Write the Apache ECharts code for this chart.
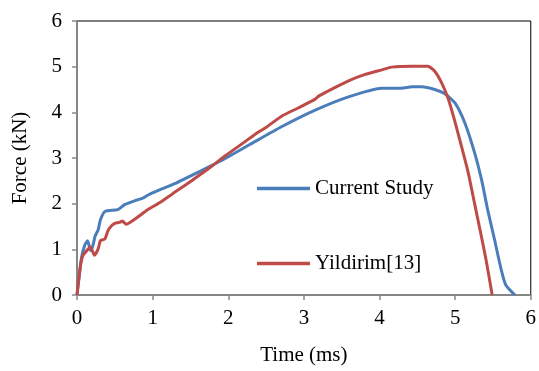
<!DOCTYPE html>
<html>
<head>
<meta charset="utf-8">
<script src="https://cdn.jsdelivr.net/npm/echarts@6/dist/echarts.min.js"></script>
<style>
  html, body { margin: 0; padding: 0; background: #fff; }
  #chart { width: 539px; height: 371px; }
</style>
</head>
<body>
<div id="chart"></div>
<script>
// time (ms) / force (kN)
const currentTime = [0, 0.06, 0.1, 0.14, 0.18, 0.21, 0.24, 0.28, 0.31, 0.37, 0.54, 0.63, 0.79, 0.87, 0.94, 1.09, 1.31, 1.53, 1.75, 1.96, 2.28, 2.71, 3.15, 3.59, 4.03, 4.29, 4.43, 4.56, 4.73, 4.86, 5.0, 5.13, 5.26, 5.35, 5.43, 5.52, 5.61, 5.67, 5.79];
const currentForce = [0, 0.82, 1.08, 1.19, 0.97, 1.08, 1.29, 1.43, 1.65, 1.83, 1.87, 1.98, 2.08, 2.12, 2.19, 2.30, 2.45, 2.63, 2.81, 2.99, 3.29, 3.69, 4.05, 4.34, 4.53, 4.53, 4.56, 4.56, 4.50, 4.41, 4.20, 3.76, 3.10, 2.52, 1.87, 1.22, 0.55, 0.22, 0];

const yildirimTime = [0, 0.05, 0.08, 0.15, 0.18, 0.23, 0.28, 0.31, 0.37, 0.41, 0.46, 0.5, 0.56, 0.6, 0.65, 0.79, 0.91, 1.09, 1.31, 1.53, 1.75, 1.97, 2.19, 2.4, 2.5, 2.71, 2.93, 3.15, 3.2, 3.37, 3.59, 3.81, 4.03, 4.16, 4.43, 4.64, 4.73, 4.82, 4.91, 5.0, 5.08, 5.17, 5.26, 5.35, 5.41, 5.49];
const yildirimForce = [0, 0.69, 0.87, 1.01, 1.05, 0.87, 1.01, 1.19, 1.23, 1.41, 1.52, 1.57, 1.59, 1.62, 1.55, 1.69, 1.84, 2.02, 2.27, 2.52, 2.78, 3.06, 3.32, 3.57, 3.67, 3.92, 4.10, 4.29, 4.36, 4.51, 4.69, 4.83, 4.93, 4.99, 5.01, 5.01, 4.90, 4.65, 4.29, 3.78, 3.28, 2.70, 1.98, 1.26, 0.76, 0];

const seriesNames = ['Current Study', 'Yildirim[13]'];

const chart = echarts.init(document.getElementById('chart'));
const font = 'Liberation Serif, Times New Roman, serif';

const pairs = (xs, ys) => xs.map((x, i) => [x, ys[i]]);

chart.setOption({
  animation: false,
  textStyle: { fontFamily: font },
  grid: {
    left: 77, right: 7, top: 21, bottom: 73,
    show: true, borderColor: '#000', borderWidth: 1
  },
  legend: {
    data: seriesNames,
    orient: 'vertical',
    left: 252,
    top: 173,
    itemGap: 54,
    itemWidth: 53,
    itemHeight: 3.5,
    itemTextGap: 5,
    icon: 'rect',
    textStyle: { fontFamily: font, fontSize: 21, color: '#000' }
  },
  xAxis: {
    type: 'value',
    min: 0, max: 6, interval: 1,
    name: 'Time (ms)',
    nameLocation: 'middle',
    nameGap: 50,
    nameTextStyle: { fontFamily: font, fontSize: 21, color: '#000' },
    axisLine: { lineStyle: { color: '#898989', width: 1.5 } },
    axisTick: { length: 5, lineStyle: { color: '#898989', width: 1.5 } },
    axisLabel: { fontFamily: font, fontSize: 21, color: '#000', margin: 13 },
    splitLine: { show: false }
  },
  yAxis: {
    type: 'value',
    min: 0, max: 6, interval: 1,
    name: 'Force (kN)',
    nameLocation: 'middle',
    nameGap: 46,
    nameTextStyle: { fontFamily: font, fontSize: 21, color: '#000' },
    axisLine: { show: true, lineStyle: { color: '#898989', width: 1.5 } },
    axisTick: { show: true, length: 5, lineStyle: { color: '#898989', width: 1.5 } },
    axisLabel: { fontFamily: font, fontSize: 21, color: '#000', margin: 15 },
    splitLine: { show: false }
  },
  series: [
    {
      name: seriesNames[0],
      type: 'line',
      data: pairs(currentTime, currentForce),
      showSymbol: false,
      smooth: 0.2,
      color: '#4A7EBB',
      lineStyle: { width: 3 }
    },
    {
      name: seriesNames[1],
      type: 'line',
      data: pairs(yildirimTime, yildirimForce),
      showSymbol: false,
      smooth: 0.2,
      color: '#BE4B48',
      lineStyle: { width: 3 }
    }
  ]
});
</script>
</body>
</html>
